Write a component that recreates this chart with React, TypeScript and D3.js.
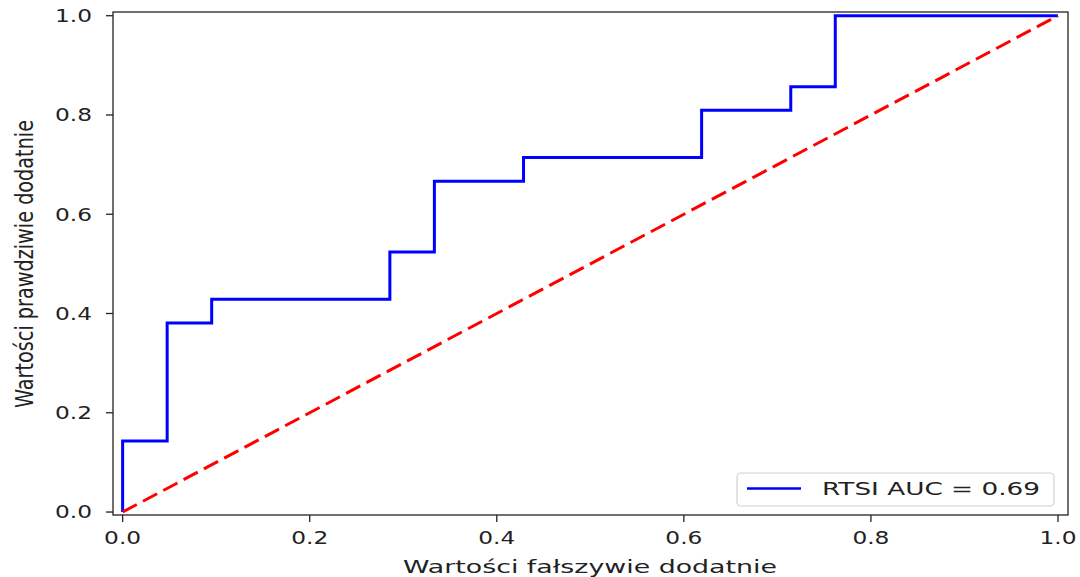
import React from "react";
import * as d3 from "d3";

// ROC curve points (false positive rate, true positive rate)
const fpr = [0, 0, 0.0476, 0.0476, 0.0952, 0.0952, 0.2857, 0.2857, 0.3333, 0.3333, 0.4286, 0.4286, 0.619, 0.619, 0.7143, 0.7143, 0.7619, 0.7619, 1.0];
const tpr = [0, 0.1429, 0.1429, 0.381, 0.381, 0.4286, 0.4286, 0.5238, 0.5238, 0.6667, 0.6667, 0.7143, 0.7143, 0.8095, 0.8095, 0.8571, 0.8571, 1.0, 1.0];
const chanceX = [0, 1];
const chanceY = [0, 1];
const xTicks = ["0.0", "0.2", "0.4", "0.6", "0.8", "1.0"];
const yTicks = ["0.0", "0.2", "0.4", "0.6", "0.8", "1.0"];
const legendLabel = "RTSI AUC = 0.69";
const xLabel = "Wartości fałszywie dodatnie";
const yLabel = "Wartości prawdziwie dodatnie";

const W = 1080;
const H = 577;
const left = 113;
const right = 1068;
const top = 12;
const bottom = 515;
const FONT = "DejaVu Sans, sans-serif";

export default function App() {
  const x = d3.scaleLinear().domain([-0.0103, 1.0107]).range([left, right]);
  const y = d3.scaleLinear().domain([-0.006, 1.0075]).range([bottom, top]);

  const roc = d3
    .line<number>()
    .x((_, i) => x(fpr[i]))
    .y((_, i) => y(tpr[i]))(fpr) as string;

  const diag = d3
    .line<number>()
    .x((_, i) => x(chanceX[i]))
    .y((_, i) => y(chanceY[i]))(chanceX) as string;

  return (
    <svg
      width={W}
      height={H}
      style={{ position: "absolute", left: 0, top: 0, background: "#fff" }}
    >
      <rect x={0} y={0} width={W} height={H} fill="#fff" />

      {/* curves */}
      <path d={roc} fill="none" stroke="#0000ff" strokeWidth={3} strokeLinejoin="miter" />
      <path d={diag} fill="none" stroke="#ff0000" strokeWidth={3} strokeDasharray="16 7" />

      {/* frame */}
      <rect
        x={left}
        y={top}
        width={right - left}
        height={bottom - top}
        fill="none"
        stroke="#222"
        strokeWidth={1.3}
      />

      {/* x axis ticks */}
      {xTicks.map((t) => {
        const px = x(+t);
        return (
          <g key={"x" + t}>
            <line x1={px} x2={px} y1={bottom} y2={bottom + 7} stroke="#222" strokeWidth={1.3} />
            <text
              x={px}
              y={544}
              textAnchor="middle"
              fontFamily={FONT}
              fontSize={17}
              fill="#222"
              textLength={37}
              lengthAdjust="spacingAndGlyphs"
            >
              {t}
            </text>
          </g>
        );
      })}

      {/* y axis ticks */}
      {yTicks.map((t) => {
        const py = y(+t);
        return (
          <g key={"y" + t}>
            <line x1={left - 7} x2={left} y1={py} y2={py} stroke="#222" strokeWidth={1.3} />
            <text
              x={92}
              y={py + 6.3}
              textAnchor="end"
              fontFamily={FONT}
              fontSize={17}
              fill="#222"
              textLength={37}
              lengthAdjust="spacingAndGlyphs"
            >
              {t}
            </text>
          </g>
        );
      })}

      {/* axis labels */}
      <text
        x={590}
        y={573}
        textAnchor="middle"
        fontFamily={FONT}
        fontSize={17}
        fill="#222"
        textLength={374}
        lengthAdjust="spacingAndGlyphs"
      >
        {xLabel}
      </text>
      <g transform="translate(33,264) scale(1.34,1) rotate(-90)">
        <text
          x={0}
          y={0}
          textAnchor="middle"
          fontFamily={FONT}
          fontSize={19}
          fill="#222"
          textLength={288}
          lengthAdjust="spacingAndGlyphs"
        >
          {yLabel}
        </text>
      </g>

      {/* legend */}
      <rect
        x={737}
        y={473}
        width={317}
        height={33}
        rx={4}
        fill="#fff"
        fillOpacity={0.8}
        stroke="#d0d0d0"
        strokeWidth={1.2}
      />
      <line x1={747} x2={801} y1={488.5} y2={488.5} stroke="#0000ff" strokeWidth={2.5} />
      <text
        x={822}
        y={495}
        fontFamily={FONT}
        fontSize={17}
        fill="#222"
        textLength={218}
        lengthAdjust="spacingAndGlyphs"
      >
        {legendLabel}
      </text>
    </svg>
  );
}
